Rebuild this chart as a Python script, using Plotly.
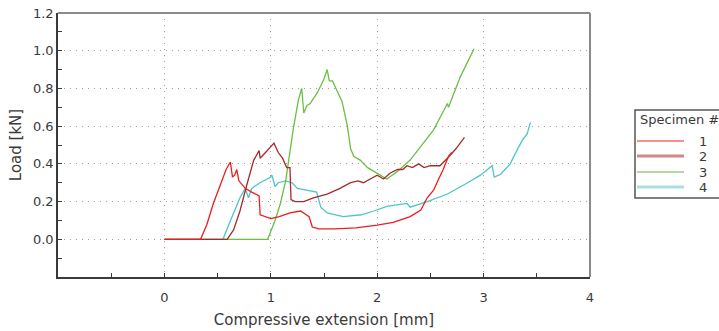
import plotly.graph_objects as go

# ---------------- data ----------------
specimen_names = ["1", "2", "3", "4"]

x1 = [0, 0.34, 0.40, 0.46, 0.52, 0.58, 0.62, 0.64, 0.66, 0.68, 0.70, 0.76, 0.82, 0.89, 0.90, 0.95,
      1.0, 1.08, 1.18, 1.28, 1.33, 1.36, 1.39, 1.45, 1.6, 1.8, 2.0, 2.15, 2.31, 2.41, 2.47, 2.53,
      2.57, 2.62, 2.67, 2.70]
y1 = [0, 0, 0.08, 0.19, 0.28, 0.37, 0.41, 0.33, 0.34, 0.37, 0.31, 0.27, 0.25, 0.23, 0.13, 0.12,
      0.11, 0.12, 0.14, 0.15, 0.13, 0.12, 0.065, 0.055, 0.055, 0.06, 0.075, 0.09, 0.12, 0.155, 0.22, 0.26,
      0.31, 0.37, 0.44, 0.46]

x2 = [0, 0.59, 0.65, 0.71, 0.78, 0.84, 0.89, 0.90, 0.95, 1.03, 1.07, 1.11, 1.15, 1.18, 1.19, 1.23,
      1.31, 1.40, 1.53, 1.65, 1.75, 1.82, 1.87, 1.94, 2.0, 2.06, 2.12, 2.19, 2.24, 2.28, 2.33, 2.39,
      2.44, 2.50, 2.59, 2.66, 2.74, 2.82]
y2 = [0, 0, 0.05, 0.15, 0.30, 0.42, 0.47, 0.43, 0.46, 0.51, 0.46, 0.43, 0.38, 0.38, 0.21, 0.20,
      0.20, 0.22, 0.24, 0.27, 0.30, 0.31, 0.30, 0.32, 0.34, 0.32, 0.35, 0.37, 0.37, 0.39, 0.38, 0.40,
      0.38, 0.39, 0.39, 0.43, 0.48, 0.54]

x3 = [0, 0.97, 1.04, 1.09, 1.14, 1.18, 1.21, 1.26, 1.29, 1.31, 1.34, 1.37, 1.44, 1.50, 1.53, 1.55,
      1.58, 1.62, 1.67, 1.72, 1.75, 1.78, 1.84, 1.91, 1.97, 2.03, 2.09, 2.14, 2.19, 2.31, 2.41, 2.53,
      2.66, 2.67, 2.78, 2.91]
y3 = [0, 0, 0.10, 0.19, 0.31, 0.47, 0.58, 0.74, 0.80, 0.67, 0.71, 0.72, 0.78, 0.85, 0.90, 0.84,
      0.84, 0.79, 0.73, 0.60, 0.48, 0.44, 0.42, 0.38, 0.36, 0.34, 0.32, 0.34, 0.36, 0.42, 0.49, 0.58,
      0.72, 0.70, 0.86, 1.01]

x4 = [0, 0.55, 0.60, 0.65, 0.71, 0.76, 0.79, 0.82, 0.90, 1.0, 1.01, 1.04, 1.07, 1.14, 1.20, 1.25,
      1.35, 1.43, 1.47, 1.53, 1.68, 1.85, 1.97, 2.09, 2.28, 2.31, 2.47, 2.66, 2.85, 2.97, 3.08, 3.10,
      3.16, 3.25, 3.33, 3.37, 3.41, 3.44]
y4 = [0, 0, 0.07, 0.14, 0.22, 0.27, 0.22, 0.27, 0.30, 0.33, 0.34, 0.28, 0.30, 0.31, 0.30, 0.27,
      0.26, 0.25, 0.17, 0.14, 0.12, 0.13, 0.15, 0.175, 0.19, 0.17, 0.20, 0.24, 0.30, 0.34, 0.39, 0.33,
      0.345, 0.40, 0.49, 0.53, 0.56, 0.62]

x_tick_vals = [0, 1, 2, 3, 4]
x_tick_text = ["0", "1", "2", "3", "4"]
y_tick_vals = [0.0, 0.2, 0.4, 0.6, 0.8, 1.0, 1.2]
y_tick_text = ["0.0", "0.2", "0.4", "0.6", "0.8", "1.0", "1.2"]

# ---------------- styles ----------------
line_colors = ["#ee1c1c", "#a62a2a", "#6abf45", "#4cc6c6"]
legend_colors = ["#ff1a1a", "#d38888", "#66b84a", "#a6e0e0"]
legend_widths = [1.2, 3, 1.2, 3]

W, H = 719, 331
ML, MR, MT, MB = 58, 129, 13, 54
PW, PH = W - ML - MR, H - MT - MB


def pxx(p):
    return (p - ML) / PW


def pxy(p):
    return (H - MB - p) / PH


fig = go.Figure()
series = [(x1, y1), (x2, y2), (x3, y3), (x4, y4)]
for i in reversed(range(4)):
    xs, ys = series[i]
    fig.add_trace(go.Scatter(x=xs, y=ys, mode="lines", name=specimen_names[i],
                             line=dict(color=line_colors[i], width=1.3),
                             showlegend=False))

txt = "#3a3a3a"
axis_common = dict(ticks="inside", ticklen=4, tickcolor=txt, tickwidth=1,
                   showline=True, linecolor=txt, linewidth=1.5,
                   showgrid=True, gridcolor="#a8a08c", griddash="1px,5px", gridwidth=1,
                   zeroline=False)

fig.update_xaxes(range=[-1, 4], tickvals=x_tick_vals, ticktext=x_tick_text,
                 minor=dict(dtick=0.5, tick0=0, ticks="inside", ticklen=4,
                            tickcolor=txt, showgrid=False),
                 ticklabelstandoff=8,
                 title=dict(text="Compressive extension [mm]", font=dict(size=15), standoff=10),
                 **axis_common)
fig.update_yaxes(range=[-0.2, 1.2], tickvals=y_tick_vals, ticktext=y_tick_text,
                 minor=dict(dtick=0.1, tick0=0, ticks="inside", ticklen=4,
                            tickcolor=txt, showgrid=False),
                 title=dict(text="Load [kN]", font=dict(size=15), standoff=8),
                 **axis_common)

shapes = [
    dict(type="line", xref="paper", yref="paper", x0=0, x1=1, y0=1, y1=1,
         line=dict(color="#8a8a8a", width=2)),
    dict(type="line", xref="paper", yref="paper", x0=1, x1=1, y0=0, y1=1,
         line=dict(color="#8a8a8a", width=2)),
    # legend box
    dict(type="rect", xref="paper", yref="paper", x0=pxx(635), x1=pxx(728),
         y0=pxy(198), y1=pxy(110), line=dict(color="#555555", width=1.5),
         fillcolor="white", layer="above"),
]
annotations = [
    dict(text="Specimen #", xref="paper", yref="paper", x=pxx(638), y=pxy(119),
         xanchor="left", yanchor="middle", showarrow=False, font=dict(size=13, color=txt)),
]
legend_rows = [141, 156, 172, 187]
for i, ry in enumerate(legend_rows):
    shapes.append(dict(type="line", xref="paper", yref="paper", x0=pxx(637), x1=pxx(684),
                       y0=pxy(ry), y1=pxy(ry),
                       line=dict(color=legend_colors[i], width=legend_widths[i]), layer="above"))
    annotations.append(dict(text=specimen_names[i], xref="paper", yref="paper",
                            x=pxx(703), y=pxy(ry), xanchor="center", yanchor="middle",
                            showarrow=False, font=dict(size=13, color=txt)))

fig.update_layout(
    width=W, height=H,
    margin=dict(l=ML, r=MR, t=MT, b=MB, autoexpand=False),
    paper_bgcolor="white", plot_bgcolor="white",
    font=dict(family="DejaVu Sans, Verdana, sans-serif", size=13, color=txt),
    showlegend=False,
    shapes=shapes,
    annotations=annotations,
)

fig.write_html("out.html", config={"displayModeBar": False},
               post_script="document.body.style.margin='0';document.body.style.overflow='hidden';")
